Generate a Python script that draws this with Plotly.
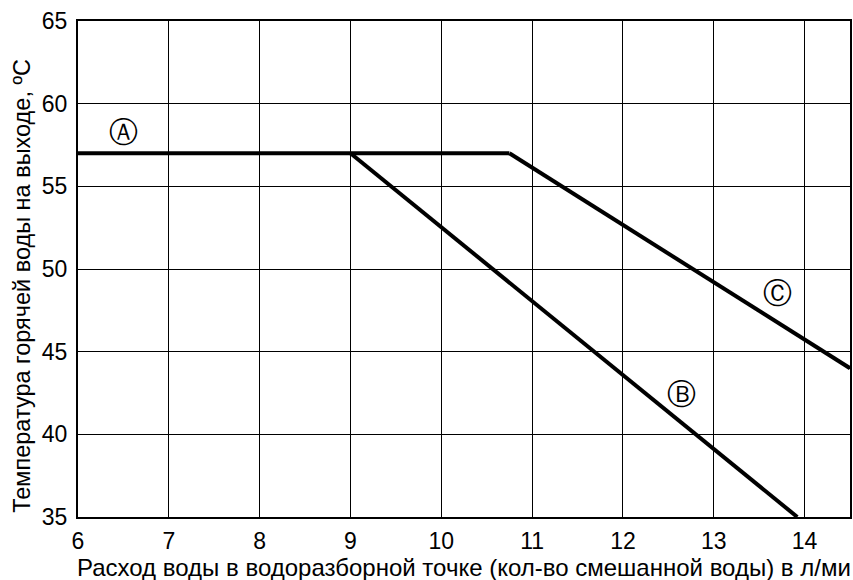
import plotly.graph_objects as go

# Data
a_x = [6, 10.75]
a_y = [57, 57]
b_x = [9, 13.92]
b_y = [57, 35]
c_x = [10.75, 14.5]
c_y = [57, 44]

label_text = ["Ⓐ", "Ⓑ", "Ⓒ"]
label_x = [6.5, 12.64, 13.7]
label_y = [58.1, 42.3, 48.4]

x_ticks = [6, 7, 8, 9, 10, 11, 12, 13, 14]
y_ticks = [35, 40, 45, 50, 55, 60, 65]

x_title = "Расход воды в водоразборной точке (кол-во смешанной воды) в л/ми"
y_title = "Температура горячей воды на выходе, ºC"

FONT = "Liberation Sans, Arial, sans-serif"

fig = go.Figure()
line_style = dict(color="black", width=4)
for xs, ys in [(a_x, a_y), (b_x, b_y), (c_x, c_y)]:
    fig.add_trace(go.Scatter(x=xs, y=ys, mode="lines", line=line_style,
                             showlegend=False, hoverinfo="skip"))

fig.add_trace(go.Scatter(x=label_x, y=label_y, mode="text", text=label_text,
                         textfont=dict(family="DejaVu Sans", size=29, color="black"),
                         showlegend=False, hoverinfo="skip"))

fig.add_annotation(text=x_title, xref="paper", yref="paper", x=-0.004, y=-0.102,
                   xanchor="left", yanchor="middle", showarrow=False,
                   font=dict(family=FONT, size=24, color="black"))
fig.add_annotation(text=y_title, xref="paper", yref="paper", x=-0.072, y=0.467,
                   xanchor="center", yanchor="middle", showarrow=False, textangle=-90,
                   font=dict(family=FONT, size=23.5, color="black"))

fig.update_layout(
    width=853, height=580,
    margin=dict(l=78, r=3, t=21, b=63, autoexpand=False),
    plot_bgcolor="white", paper_bgcolor="white",
    font=dict(family=FONT, size=23, color="black"),
    xaxis=dict(range=[6, 14.5], tickvals=x_ticks, showgrid=True,
               gridcolor="black", gridwidth=1.3, zeroline=False,
               showline=True, linecolor="black", linewidth=2, mirror=True,
               ticks="", ticklen=0, automargin=False, ticklabelstandoff=2),
    yaxis=dict(range=[35, 65], tickvals=y_ticks, showgrid=True,
               gridcolor="black", gridwidth=1.3, zeroline=False,
               showline=True, linecolor="black", linewidth=2, mirror=True,
               ticks="", ticklen=0, automargin=False, ticklabelstandoff=4),
)

fig.write_html("out.html", config={"displayModeBar": False},
               post_script="document.body.style.margin='0px';")
